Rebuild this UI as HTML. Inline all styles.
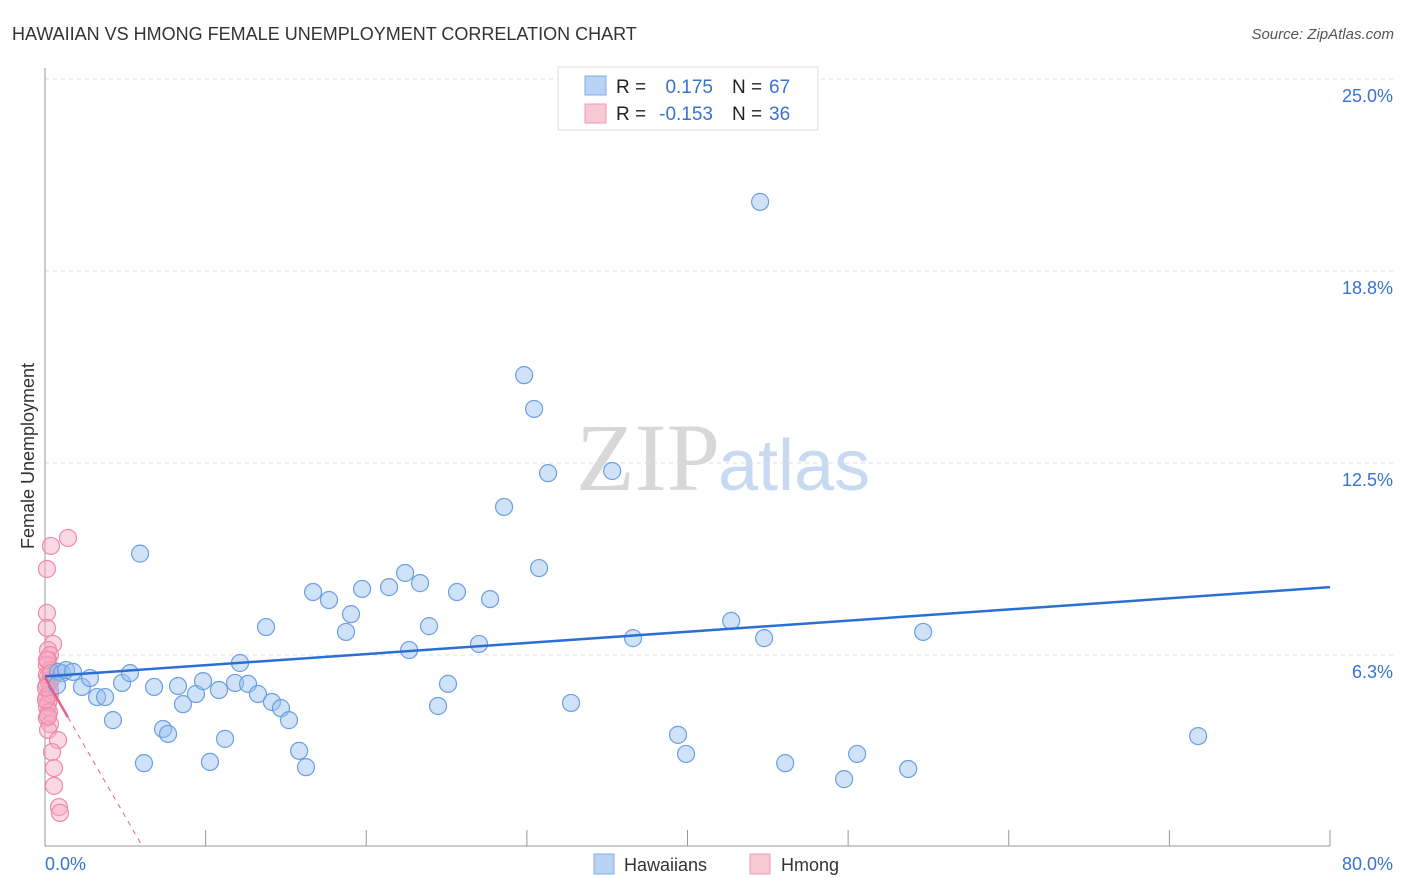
<!DOCTYPE html>
<html><head><meta charset="utf-8"><style>
body{margin:0;background:#fff;font-family:"Liberation Sans",sans-serif;}
svg{display:block}
</style></head><body>
<svg id="chart" width="1406" height="892" xmlns="http://www.w3.org/2000/svg">
<text x="12" y="40" font-size="18" fill="#333">HAWAIIAN VS HMONG FEMALE UNEMPLOYMENT CORRELATION CHART</text>
<text x="1394" y="39" font-size="15" fill="#555" font-style="italic" text-anchor="end">Source: ZipAtlas.com</text>
<text x="720" y="490" font-size="96" fill="#d8d8d8" text-anchor="end" font-family="Liberation Serif, serif">ZIP</text>
<text x="718" y="490" font-size="72" fill="#c8daf2">atlas</text>
<g id="grid"></g>
<g id="axes"></g>
<g id="marks"></g>
<text x="34" y="456" font-size="18" fill="#333" text-anchor="middle" transform="rotate(-90 34 456)">Female Unemployment</text>
<g>
<rect x="558" y="67" width="260" height="63" fill="#fff" stroke="#ddd"/>
<rect x="585" y="76" width="21" height="19" fill="#b8d2f4" stroke="#80aee6"/>
<rect x="585" y="104" width="21" height="19" fill="#f8c8d6" stroke="#ee9ab4"/>
<text x="616" y="93" font-size="19" fill="#222">R =</text>
<text x="713" y="93" font-size="19" fill="#3a72d0" text-anchor="end">0.175</text>
<text x="732" y="93" font-size="19" fill="#222">N =</text>
<text x="769" y="93" font-size="19" fill="#3a72d0">67</text>
<text x="616" y="120" font-size="19" fill="#222">R =</text>
<text x="713" y="120" font-size="19" fill="#3a72d0" text-anchor="end">-0.153</text>
<text x="732" y="120" font-size="19" fill="#222">N =</text>
<text x="769" y="120" font-size="19" fill="#3a72d0">36</text>
</g>
<g>
<rect x="594" y="854" width="20" height="20" fill="#b8d2f4" stroke="#80aee6"/>
<text x="624" y="871" font-size="18" fill="#333">Hawaiians</text>
<rect x="750" y="854" width="20" height="20" fill="#f8c8d6" stroke="#ee9ab4"/>
<text x="781" y="871" font-size="18" fill="#333">Hmong</text>
</g>
</svg>
<script>
const yTicks=[6.3,12.5,18.8,25.0];
const yTickVals=[6.25,12.5,18.75,25];
const xTickLabels=["0.0%","80.0%"];
const hawX=[0.81,1.06,0.75,1.31,1.74,2.30,2.80,3.24,3.74,4.23,4.80,5.29,5.92,6.16,6.79,7.35,7.66,8.28,8.59,9.40,9.84,10.27,10.83,11.21,11.83,12.14,12.64,13.26,13.76,14.13,14.69,15.19,15.82,16.25,16.69,17.68,18.74,19.05,19.74,21.42,22.42,22.67,23.35,23.91,24.47,25.09,25.65,27.02,27.71,28.58,29.83,30.45,30.76,31.32,32.75,35.31,36.61,39.41,39.91,42.72,44.52,44.77,46.08,49.75,50.56,53.74,54.67,71.79];
const hawY=[5.70,5.66,5.27,5.76,5.70,5.21,5.50,4.88,4.88,4.13,5.34,5.66,9.55,2.73,5.21,3.84,3.68,5.24,4.65,4.98,5.40,2.77,5.11,3.52,5.34,5.99,5.31,4.98,7.16,4.72,4.52,4.13,3.13,2.60,8.30,8.04,7.00,7.58,8.40,8.46,8.92,6.41,8.59,7.19,4.59,5.31,8.30,6.61,8.07,11.07,15.36,14.26,9.08,12.17,4.69,12.24,6.80,3.65,3.03,7.36,21.00,6.80,2.73,2.21,3.03,2.54,7.00,3.61];
const hmX=[1.43,0.37,0.12,0.12,0.12,0.50,0.19,0.31,0.19,0.12,0.31,0.19,0.37,0.12,0.31,0.12,0.19,0.12,0.25,0.12,0.31,0.19,0.81,0.44,0.56,0.56,0.87,0.93,0.12,0.25,0.31,0.06,0.12,0.37,0.06,0.19];
const hmY=[10.06,9.80,9.05,7.62,7.13,6.61,6.41,6.25,6.09,5.92,5.76,5.53,5.44,5.27,5.11,4.88,4.69,4.56,4.39,4.20,4.00,3.81,3.48,3.09,2.57,1.99,1.30,1.11,5.60,5.37,4.98,4.79,6.09,5.66,5.18,4.26];
const NS="http://www.w3.org/2000/svg";
const X0=45,X1=1330,Y0=847,PY=30.72;
const xs=v=>X0+(X1-X0)*v/80;
const ys=v=>Y0-PY*v;
function mk(tag,attrs,parent){const e=document.createElementNS(NS,tag);for(const k in attrs)e.setAttribute(k,attrs[k]);parent.appendChild(e);return e;}
const grid=document.getElementById('grid'),axes=document.getElementById('axes'),marks=document.getElementById('marks');
yTickVals.forEach((v,i)=>{
 const l=mk('line',{x1:45,x2:1395,y1:ys(v),y2:ys(v),stroke:'#ddd','stroke-dasharray':'4,4'},grid);
 
 
 const t=mk('text',{x:1393,y:ys(v)+23,'font-size':18,fill:'#3a72d0','text-anchor':'end'},axes);
 t.textContent=yTicks[i].toFixed(1)+'%';
 
 
});
const la=mk('line',{x1:45,x2:45,y1:68,y2:846,stroke:'#999'},axes);


const lb=mk('line',{x1:45,x2:1330,y1:846,y2:846,stroke:'#999'},axes);


for(let v=10;v<=80;v+=10){const t=mk('line',{x1:xs(v),x2:xs(v),y1:830,y2:846,stroke:'#999'},axes);
 
 }
const xl0=mk('text',{x:45,y:870,'font-size':18,fill:'#3a72d0'},axes);xl0.textContent=xTickLabels[0];


const xl1=mk('text',{x:1393,y:870,'font-size':18,fill:'#3a72d0','text-anchor':'end'},axes);xl1.textContent=xTickLabels[1];


function fit(X,Y){const n=X.length;let mx=0,my=0;for(let i=0;i<n;i++){mx+=X[i];my+=Y[i];}mx/=n;my/=n;let sxy=0,sxx=0;for(let i=0;i<n;i++){sxy+=(X[i]-mx)*(Y[i]-my);sxx+=(X[i]-mx)**2;}const b=sxy/sxx;return [my-b*mx,b];}
function pts(X,Y,fill,stroke,name){X.forEach((x,i)=>{const c=mk('circle',{cx:xs(x),cy:ys(Y[i]),r:8.5,fill:fill,stroke:stroke,'stroke-width':1.2},marks);
 
 });}
pts(hmX,hmY,'rgba(246,170,195,0.45)','#ee8aa8','hmong-point');
pts(hawX,hawY,'rgba(150,190,240,0.45)','#6a9fe0','hawaiian-point');
const [ha,hb]=fit(hawX,hawY);
const tl=mk('line',{x1:xs(0),y1:ys(ha),x2:xs(80),y2:ys(ha+hb*80),stroke:'#2a6fd6','stroke-width':2.5},marks);


const [pa,pb]=fit(hmX,hmY);
const pmax=Math.max(...hmX);
const ps=mk('line',{x1:xs(0),y1:ys(pa),x2:xs(pmax),y2:ys(pa+pb*pmax),stroke:'#e8608a','stroke-width':2.5},marks);


let xz=pb<0?-pa/pb:80; xz=Math.min(xz,80);
const pd=mk('line',{x1:xs(pmax),y1:ys(pa+pb*pmax),x2:xs(xz),y2:ys(pa+pb*xz),stroke:'#e8608a','stroke-width':1,'stroke-dasharray':'5,5'},marks);


</script>
</body></html>
